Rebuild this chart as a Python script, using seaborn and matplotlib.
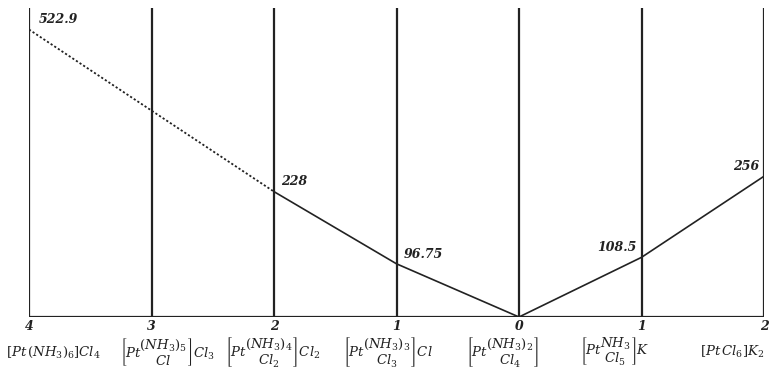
import matplotlib
matplotlib.use("Agg")
import matplotlib.pyplot as plt
import pandas as pd
import seaborn as sns

# charge numbers shown under each column and the complex salts
charges = ["4", "3", "2", "1", "0", "1", "2"]
compounds = [
    r"$\left[Pt\,(NH_3)_6\right]Cl_4$",
    r"$\left[Pt\genfrac{}{}{0}{0}{(NH_3)_5}{Cl}\right]Cl_3$",
    r"$\left[Pt\genfrac{}{}{0}{0}{(NH_3)_4}{Cl_2}\right]Cl_2$",
    r"$\left[Pt\genfrac{}{}{0}{0}{(NH_3)_3}{Cl_3}\right]Cl$",
    r"$\left[Pt\genfrac{}{}{0}{0}{(NH_3)_2}{Cl_4}\right]$",
    r"$\left[Pt\genfrac{}{}{0}{0}{NH_3}{Cl_5}\right]K$",
    r"$\left[Pt\,Cl_6\right]K_2$",
]
# molecular conductivity; column 3 has no measured value
conductivity = [522.9, None, 228, 96.75, 0, 108.5, 256]
value_labels = ["522.9", "", "228", "96.75", "", "108.5", "256"]

# layout: where each compound label sits (column units), label nudges
label_x = [0.20, 1.13, 1.99, 2.93, 3.87, 4.78, 5.74]
value_offsets = {0: (0.08, 6), 2: (0.06, 6), 3: (0.06, 6), 5: (-0.04, 6), 6: (-0.04, 6)}

sns.set_theme(style="white")
plt.rcParams["mathtext.fontset"] = "dejavuserif"
plt.rcParams["font.family"] = ["DejaVu Serif"]

df = pd.DataFrame({"pos": range(len(charges)), "value": conductivity})
measured = df.dropna()
dotted = measured[measured["pos"] <= 2]
solid = measured[measured["pos"] >= 2]

fig = plt.figure(figsize=(7.83, 3.73), dpi=100)
ax = fig.add_axes([29 / 783, 56 / 373, 735 / 783, 309 / 373])

ink = "#222222"
for x in df["pos"]:
    ax.axvline(x, color=ink, lw=1.6)
ax.axhline(0, color=ink, lw=1.6)

sns.lineplot(data=dotted, x="pos", y="value", ax=ax, color=ink,
             lw=1.3, linestyle=(0, (1.2, 1.2)))
sns.lineplot(data=solid, x="pos", y="value", ax=ax, color=ink, lw=1.2)

for i, (v, lab) in enumerate(zip(conductivity, value_labels)):
    if not lab:
        continue
    dx, dy = value_offsets[i]
    ha = "left" if dx > 0 else "right"
    ax.text(i + dx, v + dy, lab, ha=ha, va="bottom", fontsize=9,
            style="italic", fontweight="bold", color=ink)

ax.set_xlim(0, 6)
ax.set_ylim(0, 562)
ax.set_xticks([])
ax.set_yticks([])
ax.set_xlabel("")
ax.set_ylabel("")
for s in ax.spines.values():
    s.set_visible(False)

for i, (c, comp) in enumerate(zip(charges, compounds)):
    ax.annotate(c, (i, 0), xytext=(0, -7), textcoords="offset points",
                ha="center", va="center", fontsize=9, style="italic",
                fontweight="bold", color=ink, annotation_clip=False)
    ax.annotate(comp, (label_x[i], 0), xytext=(0, -25.5), textcoords="offset points",
                ha="center", va="center", fontsize=9.5, color=ink,
                annotation_clip=False)

fig.savefig("out.png", dpi=100)
